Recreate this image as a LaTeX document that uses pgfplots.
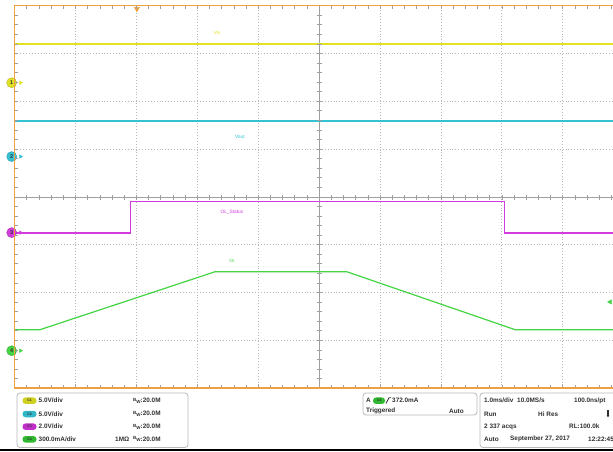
\documentclass[border=0pt]{standalone}
\usepackage{pgfplots}
\pgfplotsset{compat=1.18}
\usepackage{fontspec}
\setmainfont{Liberation Sans}
\usetikzlibrary{arrows.meta}
\definecolor{tekorange}{HTML}{F0A040}
\definecolor{tekyellow}{RGB}{226,226,36}
\definecolor{tekcyan}{RGB}{52,194,210}
\definecolor{tekmag}{HTML}{D23CDC}
\definecolor{tekgreen}{HTML}{44D444}
\definecolor{gridgray}{HTML}{B8B8B8}
\definecolor{txt}{HTML}{303030}
\definecolor{bC1}{HTML}{D0D020}
\definecolor{bC2}{HTML}{30B8C8}
\definecolor{bC3}{HTML}{C030C8}
\definecolor{bC4}{HTML}{30B830}
\newcommand{\ft}{\fontsize{6.4}{8}\selectfont\bfseries}
\newcommand{\bw}{\raisebox{1.2pt}{\fontsize{4.5}{5}\selectfont B}\raisebox{-0.8pt}{\fontsize{4.5}{5}\selectfont W}}
\begin{document}
\begin{tikzpicture}[x=1pt,y=1pt]
\useasboundingbox (0,0) rectangle (613,451);
\fill[white] (0,0) rectangle (613,451);
\begin{axis}[at={(14.5pt,63pt)}, anchor=south west, scale only axis,
  width=598.5pt, height=382.5pt,
  xmin=0, xmax=9.828, ymin=-4, ymax=4,
  axis line style={draw=none},
  xtick={1,2,3,4,6,7,8,9}, ytick={-3,-2,-1,1,2,3},
  xticklabels={}, yticklabels={}, major tick length=0pt,
  grid=major, major grid style={gridgray, line width=0.5pt, dash pattern=on 0.7pt off 2.2pt},
  clip=false]
% center crosshair
\addplot[color=gray!75, line width=0.5pt, forget plot] coordinates {(5,-4) (5,4)};
\addplot[color=gray!75, line width=0.5pt, forget plot] coordinates {(0,0) (9.828,0)};
% traces
\addplot[draw=tekyellow, line width=1.7pt] coordinates {(0,3.20) (2,3.20) (4,3.20) (6,3.20) (8,3.20) (9.828,3.20)};
\addplot[draw=tekcyan, line width=2pt] coordinates {(0,1.575) (2,1.575) (4,1.575) (6,1.575) (8,1.575) (9.828,1.575)};
\addplot[draw=tekmag, line width=1.2pt] coordinates {(0,-0.76) (1.91,-0.76) (1.91,-0.105) (8.05,-0.105) (8.05,-0.76) (9.828,-0.76)};
\addplot[draw=tekgreen, line width=1.2pt] coordinates {(0,-2.78) (0.42,-2.78) (3.29,-1.57) (5.46,-1.57) (8.22,-2.78) (9.828,-2.78)};
% trace labels
\node[text=tekyellow, font=\fontsize{4.8}{5}\selectfont] at (axis cs:3.325,3.43) {Vin};
\node[text=tekcyan, font=\fontsize{4.8}{5}\selectfont] at (axis cs:3.70,1.255) {Vout};
\node[text=tekmag, font=\fontsize{4.8}{5}\selectfont] at (axis cs:3.57,-0.335) {OL\_Status};
\node[text=tekgreen, font=\fontsize{4.8}{5}\selectfont] at (axis cs:3.57,-1.34) {Iin};
% channel ground markers
\addplot[only marks, mark=triangle*, mark size=2pt, mark options={rotate=-90, fill=tekyellow, draw=tekyellow}] coordinates {(0.10,2.385)};
\addplot[only marks, mark=triangle*, mark size=2pt, mark options={rotate=-90, fill=tekcyan, draw=tekcyan}] coordinates {(0.10,0.84)};
\addplot[only marks, mark=triangle*, mark size=2pt, mark options={rotate=-90, fill=tekmag, draw=tekmag}] coordinates {(0.10,-0.75)};
\addplot[only marks, mark=triangle*, mark size=2pt, mark options={rotate=-90, fill=tekgreen, draw=tekgreen}] coordinates {(0.10,-3.22)};
\addplot[only marks, mark=*, mark size=5pt, mark options={fill=tekyellow, draw=tekyellow!80!black}, nodes near coords={1}, nodes near coords align=center, every node near coord/.append style={font=\fontsize{5.5}{6}\selectfont\bfseries, text=txt}] coordinates {(-0.046,2.385)};
\addplot[only marks, mark=*, mark size=5pt, mark options={fill=tekcyan, draw=tekcyan!80!black}, nodes near coords={2}, nodes near coords align=center, every node near coord/.append style={font=\fontsize{5.5}{6}\selectfont\bfseries, text=txt}] coordinates {(-0.046,0.84)};
\addplot[only marks, mark=*, mark size=5pt, mark options={fill=tekmag, draw=tekmag!80!black}, nodes near coords={3}, nodes near coords align=center, every node near coord/.append style={font=\fontsize{5.5}{6}\selectfont\bfseries, text=txt}] coordinates {(-0.046,-0.75)};
\addplot[only marks, mark=*, mark size=5pt, mark options={fill=tekgreen, draw=tekgreen!80!black}, nodes near coords={4}, nodes near coords align=center, every node near coord/.append style={font=\fontsize{5.5}{6}\selectfont\bfseries, text=txt}] coordinates {(-0.046,-3.22)};
% trigger position and level markers
\addplot[only marks, mark=triangle*, mark size=3pt, mark options={rotate=180, fill=tekorange, draw=tekorange}] coordinates {(2.01,3.93)};
\addplot[only marks, mark=triangle*, mark size=2.5pt, mark options={rotate=90, fill=tekgreen, draw=tekgreen}] coordinates {(9.78,-2.2)};
\end{axis}
% minor ticks on crosshair and borders
\foreach \i in {1,...,39} {
  \draw[gray!75, line width=0.4pt] (316.5,63+\i*9.5625) -- ++(5,0);
  \draw[gray!75, line width=0.4pt] (14.5,63+\i*9.5625) -- ++(3.5,0);
}
\foreach \i in {1,...,49} {
  \draw[gray!75, line width=0.4pt] (14.5+\i*12.18,251.5) -- ++(0,5);
  \draw[gray!75, line width=0.4pt] (14.5+\i*12.18,445.5) -- ++(0,-3.5);
  \draw[gray!75, line width=0.4pt] (14.5+\i*12.18,63) -- ++(0,3.5);
}
% orange border
\draw[tekorange, line width=1.6pt] (613,445.5) -- (14.5,445.5) -- (14.5,63) -- (613,63);
% bottom panel
\fill[black] (0,0) rectangle (613,2.2);
\draw[gray!55, line width=0.8pt, rounded corners=3pt] (17,58) rectangle (188,3.5);
\draw[gray!55, line width=0.8pt, rounded corners=3pt] (363,58) rectangle (477,36);
\draw[gray!55, line width=0.8pt, rounded corners=3pt] (480,58) rectangle (625,3.5);
\tikzset{badge/.style={rounded corners=3pt, minimum width=14pt, minimum height=6.5pt, inner sep=0pt, font=\fontsize{3.5}{4}\selectfont\bfseries, text=txt}}
\node[badge, fill=bC1] at (29.5,50.3) {C1};
\node[badge, fill=bC2] at (29.5,37) {C2};
\node[badge, fill=bC3] at (29.5,24.3) {C3};
\node[badge, fill=bC4] at (29.5,11.7) {C4};
\begin{scope}[every node/.style={anchor=west, font=\ft, text=txt, inner sep=0pt}]
\node at (38.5,50.3) {5.0V/div};
\node at (38.5,37) {5.0V/div};
\node at (38.5,24.3) {2.0V/div};
\node at (38.5,11.7) {300.0mA/div};
\node at (133,50.3) {\bw:20.0M};
\node at (133,37) {\bw:20.0M};
\node at (133,24.3) {\bw:20.0M};
\node at (133,11.7) {\bw:20.0M};
\node at (115,11.7) {1MΩ};
\node at (366,50.3) {A};
\node at (392,50.3) {372.0mA};
\node at (366,40) {Triggered};
\node at (449,40) {Auto};
\node at (484,50.3) {1.0ms/div};
\node at (517,50.3) {10.0MS/s};
\node at (574,50.3) {100.0ns/pt};
\node at (484,37) {Run};
\node at (538,37) {Hi Res};
\node at (484,24.3) {2 337 acqs};
\node at (569,24.3) {RL:100.0k};
\node at (484,11.7) {Auto};
\node at (510,11.7) {September 27, 2017};
\node at (588,11.7) {12:22:45};
\end{scope}
\node[badge, fill=bC4, minimum width=12pt] at (379,50.3) {C4};
\draw[txt, line width=0.8pt] (386,47.5) -- (389,53.3) -- (391,53.3);
\draw[txt, line width=1.2pt, -{Latex[length=2.5pt,width=3pt]}] (608,41) -- (608,33.5);
\end{tikzpicture}
\end{document}
